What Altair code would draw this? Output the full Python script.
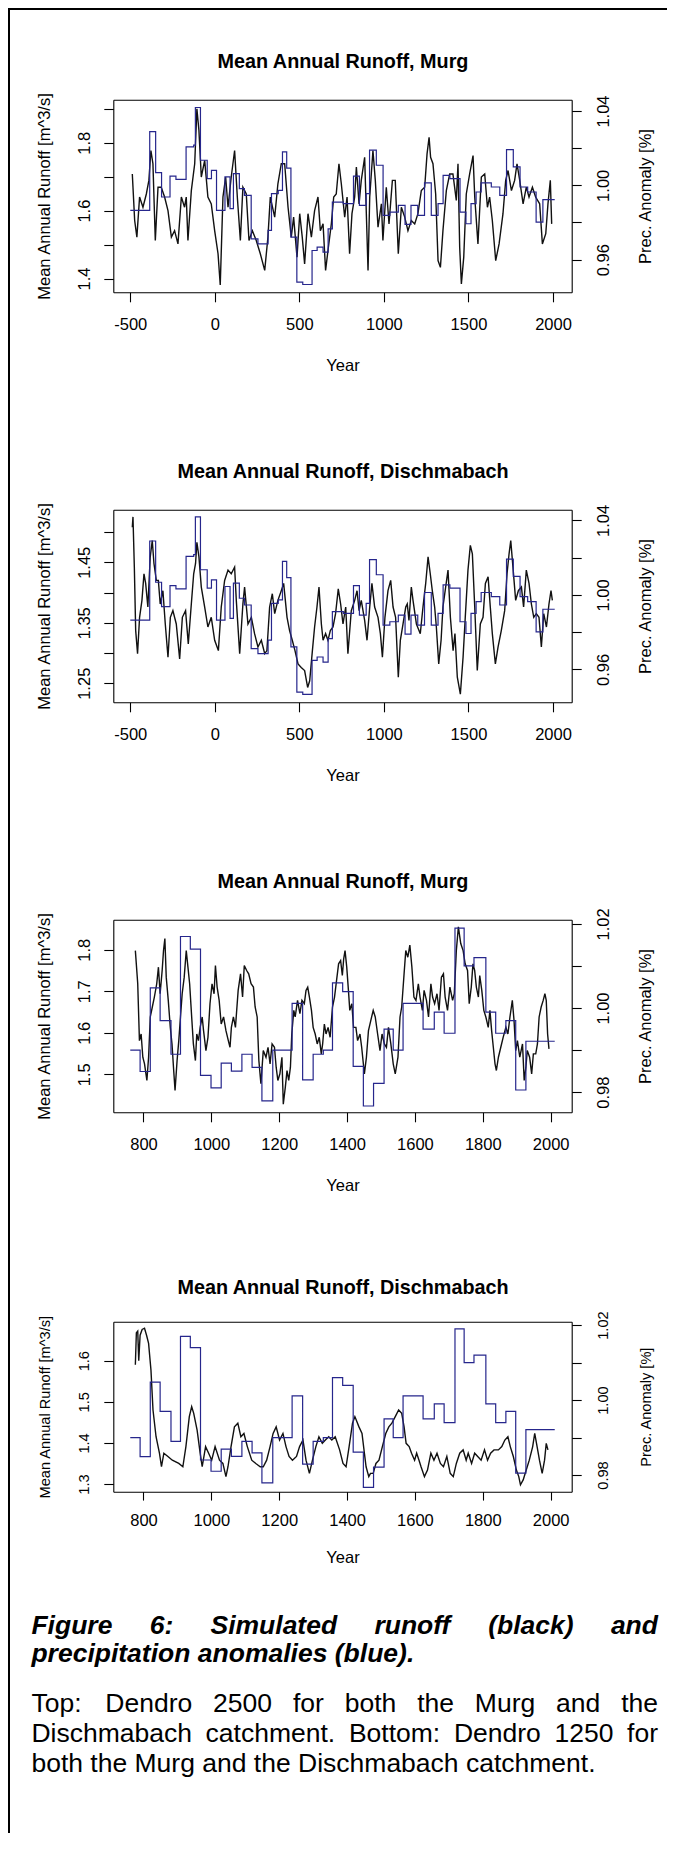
import altair as alt
import pandas as pd

# ------------------------------------------------------------------ data
# Dendro 2500 -- Murg simulated runoff (black)
murg2500_year = [
    -488, -474, -461, -445, -425, -405, -390, -378, -366, -352,
    -336, -317, -297, -277, -257, -238, -218, -198, -179, -169,
    -159, -139, -119, -106, -94, -80, -60, -41, -21, -1,
    19, 32, 48, 64, 78, 97, 117, 133, 151, 166,
    186, 202, 222, 245, 269, 295, 314, 328, 354, 373,
    393, 413, 433, 452, 466, 486, 502, 517, 531, 551,
    571, 590, 610, 624, 640, 655, 669, 689, 703, 718,
    734, 748, 768, 782, 797, 811, 827, 837, 853, 866,
    886, 906, 916, 935, 949, 965, 985, 994, 1014, 1030,
    1050, 1067, 1085, 1103, 1123, 1142, 1162, 1182, 1201, 1221,
    1241, 1255, 1267, 1276, 1290, 1306, 1320, 1334, 1349, 1369,
    1389, 1408, 1428, 1438, 1448, 1458, 1472, 1487, 1507, 1527,
    1537, 1556, 1576, 1596, 1612, 1625, 1641, 1661, 1681, 1704,
    1720, 1734, 1754, 1773, 1787, 1803, 1823, 1842, 1858, 1878,
    1897, 1921, 1937, 1957, 1970, 1984, 1992]
murg2500_runoff = [
    1.708, 1.571, 1.522, 1.640, 1.610, 1.649, 1.689, 1.777, 1.738, 1.512,
    1.669, 1.669, 1.640, 1.600, 1.522, 1.541, 1.502, 1.640, 1.610, 1.640,
    1.512, 1.659, 1.738, 1.900, 1.836, 1.699, 1.748, 1.640, 1.620, 1.541,
    1.473, 1.381, 1.640, 1.699, 1.610, 1.699, 1.777, 1.640, 1.512, 1.669,
    1.649, 1.512, 1.541, 1.512, 1.473, 1.424, 1.522, 1.640, 1.581, 1.679,
    1.738, 1.738, 1.610, 1.522, 1.581, 1.463, 1.591, 1.522, 1.443, 1.591,
    1.522, 1.600, 1.640, 1.541, 1.561, 1.424, 1.482, 1.561, 1.640, 1.649,
    1.738, 1.679, 1.581, 1.640, 1.473, 1.591, 1.640, 1.728, 1.620, 1.689,
    1.757, 1.424, 1.640, 1.777, 1.689, 1.551, 1.620, 1.512, 1.669, 1.561,
    1.689, 1.689, 1.473, 1.610, 1.581, 1.541, 1.571, 1.561, 1.591, 1.659,
    1.669, 1.767, 1.816, 1.757, 1.738, 1.649, 1.453, 1.433, 1.541, 1.659,
    1.708, 1.708, 1.630, 1.738, 1.492, 1.384, 1.463, 1.649, 1.708, 1.762,
    1.640, 1.502, 1.699, 1.708, 1.610, 1.640, 1.571, 1.453, 1.502, 1.591,
    1.689, 1.718, 1.659, 1.689, 1.738, 1.689, 1.620, 1.669, 1.640, 1.669,
    1.640, 1.620, 1.502, 1.532, 1.620, 1.689, 1.561]

# Dendro 2500 -- Dischmabach simulated runoff (black)
disch2500_year = [
    -488, -484, -476, -468, -457, -445, -431, -419, -409, -396,
    -382, -370, -360, -346, -334, -323, -307, -293, -277, -263,
    -248, -228, -208, -192, -173, -157, -139, -125, -114, -106,
    -94, -80, -60, -41, -21, -1, 21, 38, 58, 78,
    97, 117, 127, 147, 166, 176, 196, 216, 235, 255,
    275, 295, 308, 324, 340, 354, 373, 393, 407, 427,
    442, 458, 474, 492, 511, 531, 549, 561, 577, 590,
    604, 616, 630, 640, 655, 669, 683, 699, 714, 730,
    744, 758, 774, 787, 807, 827, 841, 853, 866, 886,
    900, 916, 929, 945, 965, 979, 991, 1006, 1024, 1040,
    1054, 1069, 1085, 1097, 1113, 1129, 1138, 1148, 1162, 1172,
    1192, 1215, 1231, 1247, 1261, 1274, 1286, 1300, 1310, 1324,
    1338, 1349, 1365, 1379, 1393, 1409, 1420, 1434, 1452, 1468,
    1481, 1497, 1511, 1523, 1537, 1552, 1570, 1586, 1600, 1616,
    1629, 1641, 1659, 1675, 1694, 1714, 1728, 1740, 1750, 1763,
    1779, 1795, 1813, 1826, 1842, 1858, 1872, 1886, 1901, 1917,
    1931, 1945, 1961, 1976, 1988, 1996]
disch2500_runoff = [
    1.508, 1.525, 1.442, 1.337, 1.299, 1.359, 1.387, 1.431, 1.415, 1.376,
    1.459, 1.486, 1.448, 1.420, 1.420, 1.381, 1.403, 1.348, 1.293, 1.359,
    1.370, 1.348, 1.290, 1.359, 1.370, 1.315, 1.381, 1.431, 1.448, 1.483,
    1.459, 1.409, 1.376, 1.343, 1.359, 1.321, 1.304, 1.376, 1.420, 1.437,
    1.431, 1.442, 1.387, 1.299, 1.381, 1.409, 1.348, 1.359, 1.332, 1.310,
    1.321, 1.299, 1.304, 1.376, 1.398, 1.365, 1.387, 1.403, 1.415, 1.359,
    1.337, 1.321, 1.304, 1.282, 1.276, 1.271, 1.243, 1.254, 1.304, 1.343,
    1.376, 1.409, 1.348, 1.321, 1.332, 1.321, 1.337, 1.343, 1.365, 1.406,
    1.381, 1.348, 1.376, 1.299, 1.370, 1.387, 1.403, 1.370, 1.387, 1.354,
    1.321, 1.376, 1.415, 1.376, 1.359, 1.332, 1.293, 1.359, 1.403, 1.420,
    1.376, 1.359, 1.260, 1.321, 1.348, 1.376, 1.381, 1.354, 1.409, 1.387,
    1.348, 1.332, 1.376, 1.415, 1.459, 1.431, 1.403, 1.376, 1.343, 1.282,
    1.321, 1.376, 1.409, 1.437, 1.359, 1.304, 1.332, 1.260, 1.232, 1.293,
    1.359, 1.437, 1.478, 1.464, 1.376, 1.271, 1.348, 1.359, 1.415, 1.426,
    1.376, 1.332, 1.282, 1.310, 1.337, 1.370, 1.431, 1.464, 1.486, 1.442,
    1.387, 1.403, 1.409, 1.376, 1.437, 1.415, 1.381, 1.359, 1.365, 1.359,
    1.310, 1.365, 1.343, 1.381, 1.403, 1.387]

# Dendro 2500 precipitation anomaly (blue step line, step start years + end)
prec2500_year = [
    -500, -385, -350, -315, -265, -230, -170, -125, -115, -85,
    -45, -20, 10, 60, 90, 110, 145, 175, 215, 255,
    315, 335, 375, 400, 425, 450, 485, 520, 575, 605,
    640, 670, 695, 760, 820, 855, 895, 915, 955, 995,
    1035, 1085, 1125, 1160, 1200, 1240, 1280, 1320, 1350, 1390,
    1450, 1485, 1515, 1545, 1575, 1635, 1685, 1725, 1765, 1805,
    1850, 1900, 1940, 2010]
prec2500_value = [
    0.9865, 1.0289, 1.0068, 0.9937, 1.0050, 1.0032, 1.0207, 1.0216, 1.0419, 1.0135,
    1.0036, 1.0081, 0.9865, 1.0045, 0.9874, 1.0063, 0.9982, 0.9946, 0.9712, 0.9685,
    0.9757, 0.9955, 0.9973, 1.0180, 1.0093, 0.9721, 0.9479, 0.9466, 0.9649, 0.9667,
    0.9640, 0.9766, 0.9910, 0.9901, 1.0050, 0.9892, 0.9955, 1.0189, 1.0108, 0.9838,
    0.9856, 0.9892, 0.9790, 0.9892, 0.9838, 1.0013, 0.9838, 0.9901, 1.0054, 1.0036,
    0.9856, 0.9793, 0.9901, 0.9964, 1.0013, 0.9991, 0.9946, 1.0192, 1.0099, 0.9991,
    0.9964, 0.9802, 0.9923, 0.9923]

# Dendro 1250 -- Murg simulated runoff (black)
murg1250_year = [
    776, 783, 788, 793, 798, 803, 810, 815, 820, 826,
    832, 839, 844, 849, 855, 859, 863, 867, 873, 879,
    884, 889, 893, 899, 904, 909, 914, 920, 926, 931,
    936, 942, 947, 953, 957, 962, 967, 973, 977, 984,
    990, 996, 1002, 1008, 1012, 1017, 1023, 1029, 1036, 1043,
    1050, 1055, 1059, 1065, 1071, 1079, 1086, 1092, 1097, 1104,
    1110, 1117, 1124, 1129, 1135, 1140, 1146, 1153, 1161, 1167,
    1173, 1179, 1186, 1191, 1196, 1202, 1208, 1212, 1218, 1223,
    1228, 1233, 1237, 1243, 1247, 1254, 1261, 1267, 1274, 1279,
    1284, 1289, 1295, 1300, 1306, 1312, 1318, 1324, 1328, 1333,
    1338, 1344, 1350, 1357, 1363, 1369, 1375, 1381, 1386, 1390,
    1394, 1399, 1404, 1408, 1414, 1419, 1426, 1431, 1438, 1443,
    1451, 1457, 1463, 1470, 1477, 1483, 1490, 1497, 1503, 1510,
    1516, 1522, 1529, 1536, 1542, 1550, 1556, 1561, 1568, 1573,
    1579, 1585, 1591, 1597, 1603, 1610, 1615, 1622, 1627, 1634,
    1640, 1647, 1652, 1658, 1665, 1671, 1678, 1684, 1689, 1696,
    1703, 1711, 1716, 1722, 1728, 1735, 1742, 1748, 1755, 1760,
    1766, 1771, 1776, 1781, 1787, 1791, 1797, 1803, 1809, 1816,
    1821, 1826, 1831, 1836, 1840, 1846, 1853, 1860, 1868, 1874,
    1880, 1887, 1892, 1897, 1902, 1909, 1917, 1922, 1927, 1931,
    1938, 1944, 1949, 1956, 1961, 1966, 1972, 1978, 1983, 1987,
    1991, 1995]
murg1250_runoff = [
    1.798, 1.718, 1.581, 1.597, 1.541, 1.525, 1.485, 1.541, 1.638, 1.662,
    1.686, 1.718, 1.758, 1.694, 1.750, 1.798, 1.827, 1.734, 1.678, 1.613,
    1.573, 1.509, 1.461, 1.533, 1.581, 1.638, 1.694, 1.734, 1.798, 1.758,
    1.718, 1.638, 1.573, 1.533, 1.597, 1.581, 1.613, 1.638, 1.605, 1.557,
    1.589, 1.670, 1.718, 1.694, 1.762, 1.710, 1.678, 1.621, 1.638, 1.605,
    1.581, 1.565, 1.613, 1.638, 1.613, 1.702, 1.742, 1.686, 1.762, 1.750,
    1.742, 1.718, 1.710, 1.662, 1.638, 1.533, 1.477, 1.557, 1.541, 1.565,
    1.525, 1.573, 1.565, 1.517, 1.485, 1.501, 1.541, 1.428, 1.469, 1.509,
    1.485, 1.517, 1.597, 1.654, 1.638, 1.678, 1.646, 1.678, 1.670, 1.702,
    1.710, 1.686, 1.654, 1.613, 1.597, 1.573, 1.589, 1.549, 1.573, 1.621,
    1.597, 1.613, 1.589, 1.662, 1.686, 1.726, 1.766, 1.774, 1.738, 1.778,
    1.798, 1.758, 1.702, 1.654, 1.670, 1.613, 1.613, 1.581, 1.597, 1.565,
    1.501, 1.541, 1.605, 1.630, 1.654, 1.638, 1.597, 1.557, 1.597, 1.573,
    1.565, 1.613, 1.573, 1.525, 1.501, 1.541, 1.638, 1.662, 1.742, 1.798,
    1.782, 1.811, 1.758, 1.686, 1.678, 1.718, 1.686, 1.654, 1.702, 1.678,
    1.638, 1.718, 1.686, 1.670, 1.694, 1.654, 1.734, 1.742, 1.686, 1.654,
    1.710, 1.678, 1.694, 1.798, 1.855, 1.815, 1.798, 1.766, 1.750, 1.670,
    1.710, 1.766, 1.750, 1.710, 1.686, 1.738, 1.702, 1.654, 1.638, 1.613,
    1.654, 1.605, 1.565, 1.525, 1.509, 1.541, 1.565, 1.589, 1.613, 1.597,
    1.638, 1.678, 1.630, 1.557, 1.581, 1.541, 1.573, 1.485, 1.517, 1.557,
    1.541, 1.501, 1.549, 1.549, 1.573, 1.638, 1.662, 1.678, 1.694, 1.678,
    1.597, 1.561]

# Dendro 1250 -- Dischmabach simulated runoff (black)
disch1250_year = [
    776, 779, 783, 786, 790, 796, 803, 809, 815, 822,
    828, 837, 847, 853, 860, 872, 885, 904, 916, 925,
    935, 942, 948, 958, 967, 973, 983, 992, 1001, 1011,
    1024, 1034, 1043, 1049, 1058, 1068, 1078, 1087, 1096, 1106,
    1119, 1131, 1144, 1153, 1163, 1173, 1182, 1191, 1201, 1211,
    1220, 1229, 1239, 1251, 1260, 1270, 1279, 1289, 1298, 1308,
    1317, 1327, 1336, 1346, 1355, 1365, 1378, 1388, 1397, 1406,
    1416, 1423, 1435, 1444, 1451, 1456, 1464, 1469, 1477, 1485,
    1494, 1504, 1514, 1523, 1532, 1542, 1552, 1561, 1568, 1574,
    1583, 1590, 1599, 1605, 1612, 1618, 1628, 1637, 1647, 1656,
    1665, 1675, 1684, 1694, 1704, 1713, 1722, 1732, 1742, 1751,
    1757, 1767, 1776, 1785, 1795, 1805, 1814, 1823, 1833, 1846,
    1856, 1865, 1874, 1881, 1890, 1899, 1906, 1911, 1919, 1928,
    1937, 1947, 1953, 1960, 1967, 1975, 1982, 1987, 1992]
disch1250_runoff = [
    1.590, 1.668, 1.672, 1.600, 1.662, 1.676, 1.679, 1.662, 1.642, 1.577,
    1.480, 1.415, 1.375, 1.342, 1.375, 1.367, 1.358, 1.350, 1.342, 1.391,
    1.464, 1.488, 1.472, 1.431, 1.375, 1.342, 1.391, 1.375, 1.358, 1.391,
    1.358, 1.350, 1.318, 1.342, 1.391, 1.439, 1.448, 1.415, 1.423, 1.391,
    1.358, 1.350, 1.342, 1.342, 1.358, 1.391, 1.423, 1.439, 1.407, 1.423,
    1.391, 1.367, 1.358, 1.367, 1.391, 1.407, 1.358, 1.326, 1.358, 1.391,
    1.415, 1.399, 1.407, 1.415, 1.407, 1.415, 1.383, 1.350, 1.342, 1.391,
    1.448, 1.464, 1.439, 1.423, 1.375, 1.342, 1.318, 1.326, 1.326, 1.350,
    1.358, 1.391, 1.423, 1.439, 1.448, 1.464, 1.480, 1.472, 1.439, 1.399,
    1.391, 1.375, 1.358, 1.375, 1.358, 1.342, 1.318, 1.334, 1.375, 1.358,
    1.375, 1.350, 1.342, 1.367, 1.326, 1.318, 1.350, 1.375, 1.383, 1.358,
    1.375, 1.350, 1.375, 1.367, 1.358, 1.383, 1.358, 1.375, 1.383, 1.383,
    1.391, 1.407, 1.415, 1.391, 1.367, 1.334, 1.318, 1.298, 1.310, 1.334,
    1.358, 1.391, 1.423, 1.391, 1.358, 1.326, 1.358, 1.399, 1.383]

# Dendro 1250 precipitation anomaly (blue step line, step start years + end)
prec1250_year = [
    761, 790, 820, 849, 881, 909, 938, 968, 999, 1029,
    1059, 1090, 1120, 1149, 1181, 1238, 1269, 1300, 1330, 1357,
    1387, 1418, 1448, 1478, 1509, 1536, 1565, 1624, 1657, 1686,
    1718, 1745, 1774, 1809, 1838, 1868, 1897, 1927, 2012]
prec1250_value = [
    0.9900, 0.9849, 1.0048, 0.9970, 0.9890, 1.0170, 1.0140, 0.9840, 0.9810, 0.9869,
    0.9850, 0.9890, 0.9859, 0.9779, 0.9900, 1.0011, 0.9829, 0.9890, 0.9900, 1.0060,
    1.0039, 0.9861, 0.9767, 0.9821, 0.9950, 0.9900, 1.0011, 0.9950, 0.9990, 0.9940,
    1.0190, 1.0100, 1.0120, 0.9990, 0.9940, 0.9970, 0.9805, 0.9921, 0.9921]

panel_titles = ["Mean Annual Runoff, Murg", "Mean Annual Runoff, Dischmabach",
                "Mean Annual Runoff, Murg", "Mean Annual Runoff, Dischmabach"]
x_title = "Year"
left_title = "Mean Annual Runoff [m^3/s]"
right_title = "Prec. Anomaly [%]"
x_ticks_2500 = [-500, 0, 500, 1000, 1500, 2000]
x_ticks_1250 = [800, 1000, 1200, 1400, 1600, 1800, 2000]

caption_bold = [["Figure", "6:", "Simulated", "runoff", "(black)", "and"],
                ["precipitation", "anomalies", "(blue)."]]
caption_body = [["Top:", "Dendro", "2500", "for", "both", "the", "Murg", "and", "the"],
                ["Dischmabach", "catchment.", "Bottom:", "Dendro", "1250", "for"],
                ["both", "the", "Murg", "and", "the", "Dischmabach", "catchment."]]

# ------------------------------------------------------------------ layout
FONT = "Liberation Sans"
W, H = 659, 1825
X0, X1 = 105.3, 563.7
XC = (X0 + X1) / 2
BLACK = "#111111"
BLUE = "#26268c"


def lab_expr(show, fmt):
    return ("indexof(%r, format(datum.value, '%s')) >= 0 ? format(datum.value, '%s') : ''"
            % (show, fmt, fmt))


def panel(title, ry, rv, py, pv, xdom, xticks, top, bottom,
          ldom, lticks, lshow, lfmt, rdom, rticks, rshow, rfmt, small=False):
    df_r = pd.DataFrame({"year": ry, "runoff": rv})
    df_p = pd.DataFrame({"year": py, "prec": pv})
    rot = 14.6 if small else 16.5
    half = 0.358 * rot
    btick = 8.4 if small else 9.5
    lab_base = 34.2 if small else 36.9
    year_y = 70.5 if small else 78.6
    title_y = -28 if small else -32

    xs = alt.Scale(domain=xdom, range=[X0, X1], nice=False, zero=False)
    black = alt.Chart(df_r).mark_line(color=BLACK, strokeWidth=1.4).encode(
        x=alt.X("year:Q", scale=xs, axis=alt.Axis(
            orient="bottom", offset=bottom - H, values=xticks, title=x_title,
            labelExpr="toString(datum.value)",
            tickSize=btick, labelPadding=lab_base - btick, labelBaseline="alphabetic",
            labelAngle=0, titleX=XC, titleY=year_y, titleBaseline="alphabetic",
            titleAlign="center", titleAngle=0)),
        y=alt.Y("runoff:Q", scale=alt.Scale(domain=ldom, range=[bottom, top], nice=False, zero=False),
                axis=alt.Axis(
                    orient="left", offset=-X0, values=lticks, labelExpr=lab_expr(lshow, lfmt),
                    labelAngle=270, labelAlign="center", labelBaseline="alphabetic",
                    tickSize=9.5, labelPadding=30 - half - 9.5, labelFontSize=rot,
                    title=left_title, titleAngle=270, titleFontSize=rot,
                    titleX=-69.5 + half, titleY=(top + bottom) / 2,
                    titleAlign="center", titleBaseline="alphabetic")),
    )
    blue = alt.Chart(df_p).mark_line(color=BLUE, strokeWidth=1.2, interpolate="step-after").encode(
        x=alt.X("year:Q", scale=xs, axis=alt.Axis(
            orient="top", offset=-top, ticks=False, labels=False, title=title,
            titleFontSize=19.8, titleFontWeight="bold", titleX=XC, titleY=title_y,
            titleBaseline="alphabetic", titleAlign="center", titleAngle=0)),
        y=alt.Y("prec:Q", scale=alt.Scale(domain=rdom, range=[bottom, top], nice=False, zero=False),
                axis=alt.Axis(
                    orient="right", offset=X1 - W, values=rticks, labelExpr=lab_expr(rshow, rfmt),
                    labelAngle=270, labelAlign="center", labelBaseline="alphabetic",
                    tickSize=9.5, labelPadding=30.5 + half - 9.5, labelFontSize=rot,
                    title=right_title, titleAngle=270, titleFontSize=rot,
                    titleX=73.3 + half, titleY=(top + bottom) / 2,
                    titleAlign="center", titleBaseline="alphabetic")),
    )
    return alt.layer(black, blue).resolve_scale(x="independent", y="independent")


r_ticks_a = [0.96, 0.98, 1.00, 1.02, 1.04]
r_ticks_b = [0.98, 0.99, 1.00, 1.01, 1.02]

p1 = panel(panel_titles[0], murg2500_year, murg2500_runoff, prec2500_year, prec2500_value,
           [-600.4, 2110.4], x_ticks_2500, 91.7, 284.3,
           [1.3596, 1.9265], [1.4, 1.5, 1.6, 1.7, 1.8, 1.9], ["1.4", "1.6", "1.8"], ".1f",
           [0.9424, 1.0461], r_ticks_a, ["0.96", "1.00", "1.04"], ".2f")
p2 = panel(panel_titles[1], disch2500_year, disch2500_runoff, prec2500_year, prec2500_value,
           [-600.4, 2110.4], x_ticks_2500, 501.7, 694.3,
           [1.2185, 1.5369], [1.25, 1.30, 1.35, 1.40, 1.45, 1.50], ["1.25", "1.35", "1.45"], ".2f",
           [0.9424, 1.0457], r_ticks_a, ["0.96", "1.00", "1.04"], ".2f")
p3 = panel(panel_titles[2], murg1250_year, murg1250_runoff, prec1250_year, prec1250_value,
           [711, 2062], x_ticks_1250, 911.7, 1104.3,
           [1.4083, 1.8724], [1.5, 1.6, 1.7, 1.8], ["1.5", "1.6", "1.7", "1.8"], ".1f",
           [0.9752, 1.0210], r_ticks_b, ["0.98", "1.00", "1.02"], ".2f")
p4 = panel(panel_titles[3], disch1250_year, disch1250_runoff, prec1250_year, prec1250_value,
           [711, 2062], x_ticks_1250, 1313.7, 1483.7,
           [1.2813, 1.6949], [1.3, 1.4, 1.5, 1.6], ["1.3", "1.4", "1.5", "1.6"], ".1f",
           [0.97555, 1.0209], r_ticks_b, ["0.98", "1.00", "1.02"], ".2f", small=True)

# outer frame (top and left edges of the figure box)
one = pd.DataFrame({"k": [0]})
frame_top = alt.Chart(one).mark_rule(color="black", strokeWidth=2).encode(
    x=alt.value(0), x2=alt.value(W), y=alt.value(1))
frame_left = alt.Chart(one).mark_rule(color="black", strokeWidth=2).encode(
    x=alt.value(1), y=alt.value(0), y2=alt.value(H))

# caption (justified text, laid out word by word)
W_REG = {" ": 278, "T": 611, "o": 556, "p": 556, ":": 278, "D": 722, "e": 556, "n": 556,
         "d": 556, "r": 333, "f": 278, "b": 556, "t": 278, "h": 556, "M": 833, "u": 556,
         "g": 556, "a": 556, "i": 222, "s": 500, "c": 500, "m": 833, ".": 278, "B": 667}
W_BI = {" ": 278, "F": 611, "i": 278, "g": 611, "u": 611, "r": 389, "e": 556, ":": 333,
        "S": 667, "m": 889, "l": 278, "a": 556, "t": 333, "d": 611, "n": 611, "o": 611,
        "f": 333, "(": 333, "b": 611, "c": 556, "k": 556, ")": 333, "p": 611, "s": 556,
        ".": 278}
CAP_SIZE = 26.5
CX0, CX1 = 23.4, 650.0


def layout(lines, table, baselines, last_plain):
    rows = []
    for li, (words, base) in enumerate(zip(lines, baselines)):
        widths = [sum(table.get(ch, 556) for ch in w) * CAP_SIZE / 1000 for w in words]
        if li == len(lines) - 1 and last_plain:
            gap = table[" "] * CAP_SIZE / 1000
        else:
            gap = (CX1 - CX0 - sum(widths)) / (len(words) - 1)
        x = CX0
        for w, wd in zip(words, widths):
            rows.append({"word": w, "x": x, "y": base})
            x += wd + gap
    return pd.DataFrame(rows)


df_bold = layout(caption_bold, W_BI, [1626.0, 1653.7], True)
df_body = layout(caption_body, W_REG, [1703.7, 1733.7, 1763.7], True)

cap_bold = alt.Chart(df_bold).mark_text(
    align="left", baseline="alphabetic", font=FONT, fontSize=CAP_SIZE,
    fontStyle="italic", fontWeight="bold", color="black").encode(
    x=alt.X("x:Q", scale=None, axis=None), y=alt.Y("y:Q", scale=None, axis=None), text="word:N")
cap_body = alt.Chart(df_body).mark_text(
    align="left", baseline="alphabetic", font=FONT, fontSize=CAP_SIZE, color="black").encode(
    x=alt.X("x:Q", scale=None, axis=None), y=alt.Y("y:Q", scale=None, axis=None), text="word:N")

chart = alt.layer(p1, p2, p3, p4, frame_top, frame_left, cap_bold, cap_body).resolve_scale(
    x="independent", y="independent"
).properties(
    width=W, height=H, padding=0, autosize=alt.AutoSizeParams(type="none"),
    background="white"
).configure_view(stroke=None).configure_axis(
    labelFont=FONT, titleFont=FONT, labelColor="black", titleColor="black",
    domainColor="black", tickColor="black", domainWidth=1.1, tickWidth=1.1,
    grid=False, labelFontSize=16.5, titleFontSize=16.5, titleFontWeight="normal",
    labelFlush=False, labelOverlap=False
)

chart.save("out.html", embed_options={"renderer": "svg", "actions": False})
